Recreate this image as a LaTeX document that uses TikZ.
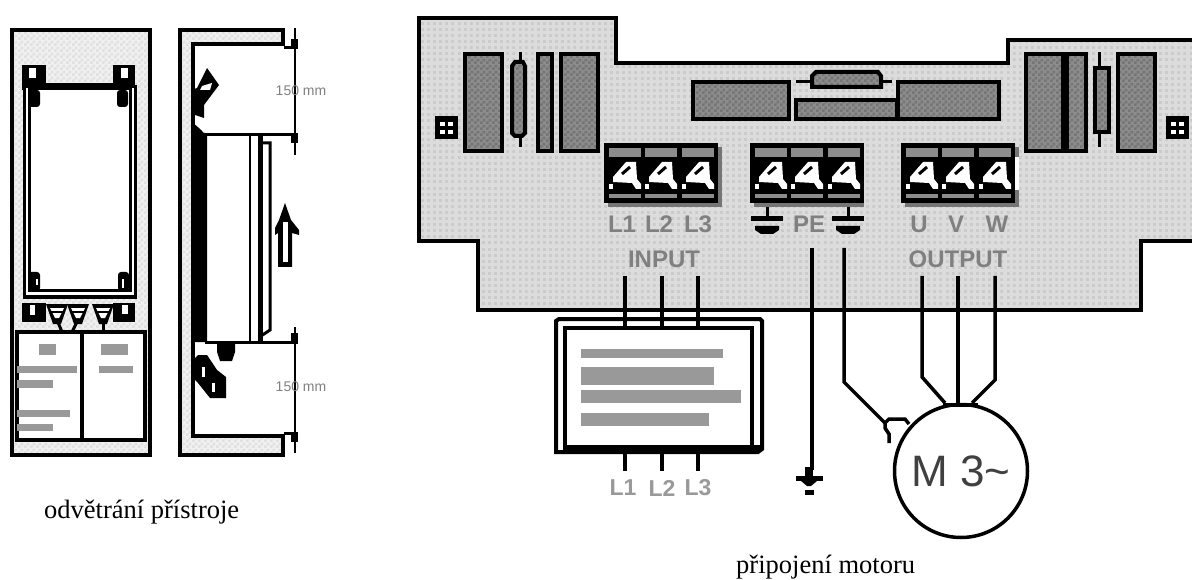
\documentclass[tikz,border=0pt]{standalone}
\usepackage{fontspec}
\setmainfont{Liberation Serif}
\setsansfont{Liberation Sans}
\usetikzlibrary{patterns,positioning}

\definecolor{boardgray}{HTML}{DCDCDC}
\definecolor{dotgray}{HTML}{CBCBCB}
\definecolor{panelgray}{HTML}{F0F0F0}
\definecolor{paneldark}{HTML}{E0E0E0}
\definecolor{boxgray}{HTML}{8C8C8C}
\definecolor{boxdark}{HTML}{757575}
\definecolor{bargray}{HTML}{999999}
\definecolor{textgray}{HTML}{808080}

\pgfdeclarepatternformonly{boarddots}{\pgfqpoint{0pt}{0pt}}{\pgfqpoint{3pt}{3pt}}{\pgfqpoint{6.1pt}{6.1pt}}{
  \pgfpathrectangle{\pgfqpoint{0pt}{0pt}}{\pgfqpoint{3pt}{3pt}}\pgfusepath{fill}}
\pgfdeclarepatternformonly{checks}{\pgfqpoint{0pt}{0pt}}{\pgfqpoint{6pt}{6pt}}{\pgfqpoint{6pt}{6pt}}{
  \pgfpathrectangle{\pgfqpoint{0pt}{0pt}}{\pgfqpoint{3pt}{3pt}}
  \pgfpathrectangle{\pgfqpoint{3pt}{3pt}}{\pgfqpoint{3pt}{3pt}}\pgfusepath{fill}}

\tikzset{
  heavy/.style={draw=black,line width=4pt,line join=miter},
  darkbox/.style={heavy,preaction={fill=boxgray},pattern=checks,pattern color=boxdark},
  panel/.style={heavy,preaction={fill=panelgray},pattern=checks,pattern color=paneldark},
  boardfill/.style={preaction={fill=boardgray},pattern=boarddots,pattern color=dotgray},
  graybar/.style={fill=bargray,draw=none},
  termtext/.style={text=textgray,font=\sffamily\bfseries\fontsize{24}{24}\selectfont,inner sep=0pt},
  filtertext/.style={text=bargray,font=\sffamily\bfseries\fontsize{23}{23}\selectfont,inner sep=0pt},
  smalltext/.style={text=textgray,font=\sffamily\fontsize{14}{14}\selectfont,inner sep=0pt},
  caption/.style={font=\fontsize{26.5}{30}\selectfont,inner sep=0pt,anchor=base west},
  wire/.style={draw=black,line width=3.5pt},
}

% one terminal block, left edge at #1, shadow width #2
\newcommand{\termblock}[2]{
  \fill[boxdark] (#1+4,147) rectangle (#1+114+#2,207);
  \fill[black] (#1,143) rectangle (#1+114,203);
  \foreach \dx in {5,41,78} {
    \fill[boxgray] (#1+\dx,148) rectangle (#1+\dx+32,157);
    \fill[boxgray] (#1+\dx,194) rectangle (#1+\dx+32,198);
    \fill[white] (#1+\dx+4,182) -- (#1+\dx+4,177) -- (#1+\dx+17,162) -- (#1+\dx+27,162)
      -- (#1+\dx+28,179) -- (#1+\dx+32,184) -- (#1+\dx+32,189) -- (#1+\dx+27,189) -- (#1+\dx+23,183) -- cycle;
    \fill[white] (#1+\dx,184) rectangle (#1+\dx+4,189);
    \draw[black,line width=3pt] (#1+\dx+13,174) -- (#1+\dx+21,167);
  }
}
% earth symbol, centre at #1, top at #2
\newcommand{\earth}[2]{
  \draw[black,line width=3pt] (#1,#2) -- (#1,#2+10);
  \fill[black] (#1-16,#2+9) rectangle (#1+16,#2+14);
  \fill[black] (#1-12,#2+19) -- (#1+12,#2+19) -- (#1+12,#2+23) -- (#1+6,#2+27) -- (#1-6,#2+27) -- (#1-12,#2+23) -- cycle;
}
% mounting screw
\newcommand{\screwhead}[2]{
  \fill[black] (#1,#2) rectangle (#1+23,#2+23);
  \foreach \a/\b in {5/6,13/6,5/14,13/14}
    \fill[white] (#1+\a,#2+\b) rectangle (#1+\a+5,#2+\b+4);
}

\begin{document}
\begin{tikzpicture}[x=1pt,y=-1pt]
\useasboundingbox (0,0) rectangle (1192,580);

% ---- front view ----
\draw[panel] (12,30) rectangle (150,455);
\fill[black] (22,65) rectangle (46,90);
\fill[black] (113,65) rectangle (135,90);
\fill[black] (46,83) rectangle (113,90);
\fill[white] (29,68) rectangle (36,78);
\fill[white] (121,68) rectangle (128,78);
\draw[black,line width=3pt,fill=white] (24,87) rectangle (135,297);
\draw[black,line width=3pt,fill=white] (29,88) rectangle (130,291);
\fill[black] (29,84) rectangle (130,90);
\fill[black,rounded corners=3pt] (28,90) rectangle (40,107);
\fill[black,rounded corners=3pt] (117,90) rectangle (128,107);
\fill[black,rounded corners=3pt] (28,272) rectangle (40,291);
\fill[black,rounded corners=3pt] (118,272) rectangle (129,291);
\fill[white] (36,279) rectangle (38,285);
\fill[white] (122,279) rectangle (124,288);
\fill[black] (22,303) rectangle (46,322);
\fill[black] (113,303) rectangle (135,322);
\fill[white] (30,305) rectangle (35,315);
\fill[white] (122,305) rectangle (128,314);
\draw[black,line width=3pt] (57,320) -- (62,332);
\draw[black,line width=3pt] (78,320) -- (72,332);
\draw[black,line width=3pt] (103,320) -- (103,332);
\foreach \tx in {57,78,103} {
  \fill[black] (\tx-11,304) -- (\tx+11,304) -- (\tx+4,324) -- (\tx-4,324) -- cycle;
  \fill[white] (\tx-7,308) -- (\tx+7,308) -- (\tx+2,318) -- (\tx-2,318) -- cycle;
  \fill[black] (\tx-6,311) rectangle (\tx+6,313);
}
\draw[heavy,fill=white] (17,332) rectangle (145,440);
\draw[black,line width=4pt] (82,332) -- (82,440);
\fill[graybar] (39,344) rectangle (56,355);
\fill[graybar] (101,344) rectangle (128,355);
\fill[graybar] (17,366) rectangle (77,373);
\fill[graybar] (99,366) rectangle (133,373);
\fill[graybar] (17,380) rectangle (53,388);
\fill[graybar] (17,410) rectangle (70,417);
\fill[graybar] (17,424) rectangle (53,431);

% ---- side view ----
\draw[panel] (180,30) -- (283,30) -- (283,44) -- (193,44) -- (193,436)
  -- (283,436) -- (283,455) -- (180,455) -- cycle;
\fill[black] (192,122) -- (207,135) -- (207,342) -- (192,342) -- cycle;
\draw[black,line width=3pt] (205,135) -- (295,135);
\draw[black,line width=3pt] (205,342) -- (295,342);
\draw[black,line width=2.5pt] (250,135) -- (250,342);
\fill[black] (258,135) rectangle (263,342);
\draw[black,line width=3pt] (261,143) -- (270,143) -- (270,330) -- (261,336);
\draw[black,line width=2pt] (295,28) -- (295,155);
\draw[black,line width=2pt] (295,327) -- (295,453);
\fill[black] (284,46) rectangle (298,49);
\fill[black] (291,39) rectangle (298,46);
\fill[black] (291,133) rectangle (298,143);
\fill[black] (291,333) rectangle (298,344);
\fill[black] (284,432) rectangle (298,435);
\fill[black] (291,435) rectangle (298,442);
\node[smalltext] (topgap) at (301,91) {150 mm};
\node[smalltext] (botgap) at (301,387) {150 mm};
% air flow arrow
\fill[black] (285,203) -- (291,220) -- (299,230) -- (299,235) -- (292,233) -- (292,267) -- (278,267)
  -- (278,233) -- (275,235) -- (275,228) -- (279,220) -- cycle;
\fill[white] (283,222) rectangle (288,262);
% fans
\fill[black] (207,68) -- (219,85) -- (204,105) -- (204,118) -- (195,115) -- (192,90) -- (197,88) -- cycle;
\fill[white] (202,86) -- (212,83) -- (210,90) -- (200,90) -- cycle;
\fill[white] (196,117) -- (204,119) -- (204,133) -- (197,125) -- cycle;
\fill[white] (200,348) -- (213,345) -- (217,358) -- (207,355) -- (199,356) -- cycle;
\fill[black] (217,343) -- (235,343) -- (235,352) -- (232,361) -- (220,361) -- (217,352) -- cycle;
\fill[black] (193,360) -- (198,355) -- (207,355) -- (217,370) -- (226,377) -- (226,398) -- (210,398) -- (198,383) -- (192,377) -- cycle;
\fill[white] (202,367) rectangle (205,377);
\fill[white] (212,383) rectangle (215,392);

% ---- board ----
\path[boardfill] (419,18) -- (616,18) -- (616,63) -- (1008,63) -- (1008,40) -- (1192,40)
  -- (1192,241) -- (1141,241) -- (1141,310) -- (478,310) -- (478,241) -- (419,241) -- cycle;
\draw[heavy] (1192,40) -- (1008,40) -- (1008,63) -- (616,63) -- (616,18) -- (419,18) -- (419,241)
  -- (478,241) -- (478,310) -- (1141,310) -- (1141,241) -- (1192,241);

\node[darkbox,minimum width=37pt,minimum height=97pt,inner sep=0pt] (boxa) at (483.5,102.5) {};
\node[darkbox,minimum width=14pt,minimum height=97pt,inner sep=0pt] (boxb) at (545,102.5) {};
\node[darkbox,minimum width=37pt,minimum height=97pt,inner sep=0pt] (boxc) at (579.5,102.5) {};
\node[darkbox,minimum width=96pt,minimum height=37pt,inner sep=0pt] (boxd) at (741,100.5) {};
\node[darkbox,minimum width=101pt,minimum height=19pt,inner sep=0pt] (boxe) at (846.5,109.5) {};
\node[darkbox,minimum width=101pt,minimum height=37pt,inner sep=0pt] (boxf) at (948.5,100.5) {};
\node[darkbox,minimum width=60pt,minimum height=97pt,inner sep=0pt] (boxg) at (1056,102.5) {};
\node[darkbox,minimum width=37pt,minimum height=97pt,inner sep=0pt] (boxh) at (1136.5,102.5) {};
\fill[black] (1061,54) rectangle (1069,151);

% fuses
\draw[black,line width=3pt] (520,52) -- (520,147);
\draw[darkbox] (512,66) -- (515,62) -- (523,62) -- (525,66) -- (525,133) -- (522,136) -- (515,136) -- (512,133) -- cycle;
\draw[black,line width=3pt] (1099,52) -- (1099,147);
\draw[darkbox] (1095,68) -- (1109,68) -- (1109,132) -- (1095,132) -- cycle;
\draw[black,line width=3pt] (796,82) -- (892,82);
\draw[darkbox] (812,76) -- (816,72) -- (878,72) -- (881,76) -- (881,87) -- (812,87) -- cycle;

\screwhead{435}{116}
\screwhead{1166}{116}

\termblock{604}{4}
\termblock{750}{0}
\termblock{901}{4}
\fill[white] (1015,157) rectangle (1019,190);

\node[termtext] (lab1) at (622,224) {L1};
\node[termtext] (lab2) at (659,224) {L2};
\node[termtext] (lab3) at (698,224) {L3};
\earth{767}{207}
\node[termtext] (labpe) at (809,224) {PE};
\earth{848}{207}
\node[termtext] (labu) at (919,224) {U};
\node[termtext] (labv) at (956,224) {V};
\node[termtext] (labw) at (997,224) {W};
\node[termtext] (labin) at (664,259) {INPUT};
\node[termtext] (labout) at (958,259) {OUTPUT};

% ---- mains filter ----
\draw[heavy,fill=white] (559,319) -- (760,319) -- (762,321) -- (762,449) -- (758,452) -- (556,452) -- (556,321) -- cycle;
\node[heavy,fill=white,minimum width=187pt,minimum height=121pt,inner sep=0pt] (filter) at (658.5,388.5) {};
\fill[black] (566,445) rectangle (760,453);
\fill[graybar] (581,349) rectangle (723,358);
\fill[graybar] (581,367) rectangle (714,385);
\fill[graybar] (581,390) rectangle (741,403);
\fill[graybar] (581,413) rectangle (709,426);

\coordinate (in1) at (625,276);
\coordinate (in2) at (662,276);
\coordinate (in3) at (698,276);
\foreach \w in {in1,in2,in3} {
  \draw[wire,line width=4pt] (\w) -- (\w |- filter.north);
  \draw[wire,line width=4pt] (\w |- filter.south) -- ++(0,20);
}
\node[filtertext] (fil1) at (623,488) {L1};
\node[filtertext] (fil2) at (662,488) {L2};
\node[filtertext] (fil3) at (698,488) {L3};

% ---- motor ----
\node[draw=black,line width=3.5pt,circle,minimum size=133pt,inner sep=0pt,text=black!75,font=\sffamily\fontsize{44}{44}\selectfont] (motor) at (961,471) {M 3\textasciitilde};

\coordinate (pe) at (812,248);
\coordinate (pegnd) at (812,470);
\draw[wire] (pe) -- (pegnd);
\fill[black] (805,467) rectangle (813,476);
\fill[black] (796,476) rectangle (823,481);
\fill[black] (801,481) -- (817,481) -- (811,486) -- (807,486) -- cycle;
\fill[black] (805,490) rectangle (814,495);

\coordinate (gnd) at (844,248);
\coordinate (gndbend) at (844,382);
\coordinate (hook) at (885,423);
\draw[wire] (gnd) -- (gndbend) -- (hook);
\draw[wire] (889,443) -- (889,434) -- (885,428) -- (885,423) -- (889,419) -- (905,419) -- (909,424);

\coordinate (outu) at (922,276);
\coordinate (outv) at (958,276);
\coordinate (outw) at (995,276);
\coordinate (benu) at (922,377);
\coordinate (benw) at (995,380);
\draw[wire] (outu) -- (benu) -- (945,403);
\draw[wire] (outv) -- (outv |- motor.north);
\draw[wire] (outw) -- (benw) -- (972,403);
\draw[wire] (943,405) -- (978,405);

% ---- captions ----
\node[caption] (capleft) at (44,518) {odvětrání přístroje};
\node[caption] (capright) at (736,573) {připojení motoru};
\end{tikzpicture}
\end{document}
